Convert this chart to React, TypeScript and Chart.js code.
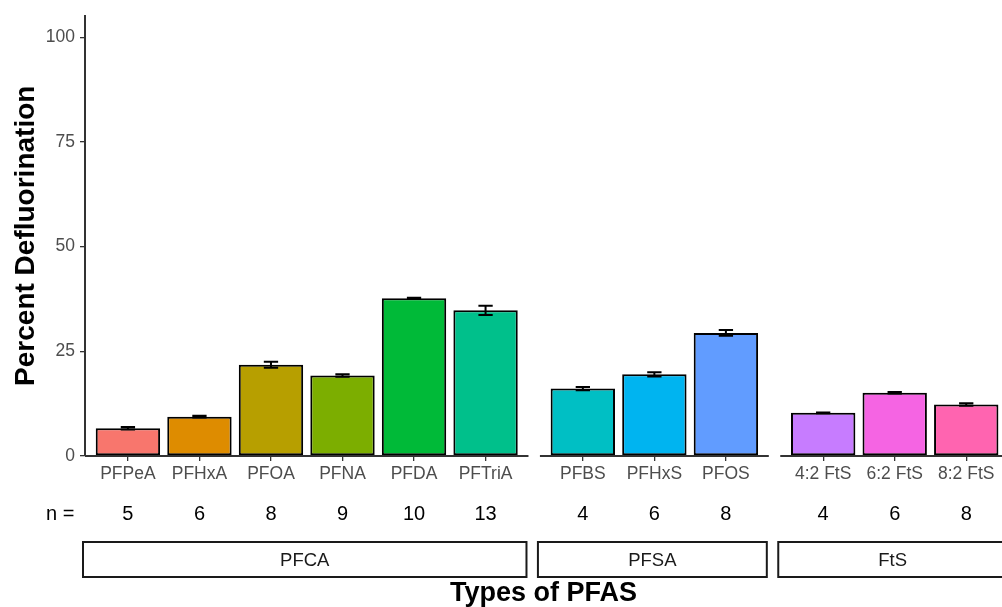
import React, { useEffect, useRef } from 'react';
import { Chart, registerables } from 'chart.js';

Chart.register(...registerables);

// ---------- data ----------
const categories = ['PFPeA', 'PFHxA', 'PFOA', 'PFNA', 'PFDA', 'PFTriA', 'PFBS', 'PFHxS', 'PFOS', '4:2 FtS', '6:2 FtS', '8:2 FtS'];
const groups = ['PFCA', 'PFCA', 'PFCA', 'PFCA', 'PFCA', 'PFCA', 'PFSA', 'PFSA', 'PFSA', 'FtS', 'FtS', 'FtS'];
const facetNames = ['PFCA', 'PFSA', 'FtS'];
const defluorination = [6.6, 9.4, 21.8, 19.2, 37.7, 34.8, 16.1, 19.5, 29.4, 10.3, 15.1, 12.3];
const errors = [0.3, 0.2, 0.7, 0.3, 0.1, 1.1, 0.4, 0.5, 0.7, 0.1, 0.2, 0.3];
const sampleSizes = [5, 6, 8, 9, 10, 13, 4, 6, 8, 4, 6, 8];
const barColors = ['#F8766D', '#DE8C00', '#B79F00', '#7CAE00', '#00BA38', '#00C08B', '#00BFC4', '#00B4F0', '#619CFF', '#C77CFF', '#F564E3', '#FF64B0'];
const yTicks = [0, 25, 50, 75, 100];

// ---------- facet layout (in category units) ----------
const EXPAND = 0.6;
const GAP = 0.16;
const X_MIN = 0.4;
const X_MAX = 13.22;

type Panel = { name: string; left: number; right: number };
const panels: Panel[] = [];
const xPos: number[] = [];
(() => {
  let start = X_MIN;
  facetNames.forEach((f) => {
    const idx = categories.map((_, i) => i).filter((i) => groups[i] === f);
    idx.forEach((ci, k) => {
      xPos[ci] = start + EXPAND + k;
    });
    const right = start + EXPAND * 2 + idx.length - 1;
    panels.push({ name: f, left: start, right });
    start = right + GAP;
  });
})();

const FONT = '"Liberation Sans", Arial, Helvetica, sans-serif';

const facetPlugin = {
  id: 'facetDecor',
  afterDraw(chart: any) {
    const { ctx, chartArea, scales } = chart;
    const x = scales.x;
    const y = scales.y;
    const bottom = chartArea.bottom;
    ctx.save();

    // panel x-axis lines
    ctx.strokeStyle = '#333333';
    ctx.lineWidth = 2;
    panels.forEach((p) => {
      const l = x.getPixelForValue(p.left);
      const r = x.getPixelForValue(p.right);
      ctx.beginPath();
      ctx.moveTo(l, bottom);
      ctx.lineTo(r, bottom);
      ctx.stroke();
    });

    // error bars
    const unit = x.getPixelForValue(1) - x.getPixelForValue(0);
    const cap = unit * 0.1;
    ctx.strokeStyle = '#000000';
    ctx.lineWidth = 2;
    defluorination.forEach((v, i) => {
      const cx = x.getPixelForValue(xPos[i]);
      const yt = y.getPixelForValue(v + errors[i]);
      const yb = y.getPixelForValue(v - errors[i]);
      ctx.beginPath();
      ctx.moveTo(cx, yt);
      ctx.lineTo(cx, yb);
      ctx.moveTo(cx - cap, yt);
      ctx.lineTo(cx + cap, yt);
      ctx.moveTo(cx - cap, yb);
      ctx.lineTo(cx + cap, yb);
      ctx.stroke();
    });

    // n = row
    const nY = bottom + 58;
    ctx.fillStyle = '#000000';
    ctx.font = `20px ${FONT}`;
    ctx.textBaseline = 'middle';
    ctx.textAlign = 'left';
    ctx.fillText('n =', 46, nY);
    ctx.textAlign = 'center';
    sampleSizes.forEach((n, i) => {
      ctx.fillText(String(n), x.getPixelForValue(xPos[i]), nY);
    });

    // facet strips
    const sTop = bottom + 86;
    const sH = 35;
    ctx.font = `18.5px ${FONT}`;
    ctx.lineWidth = 2;
    ctx.strokeStyle = '#1A1A1A';
    panels.forEach((p) => {
      const l = x.getPixelForValue(p.left) - 2;
      const r = x.getPixelForValue(p.right) - 2;
      ctx.fillStyle = '#FFFFFF';
      ctx.fillRect(l, sTop, r - l, sH);
      ctx.strokeRect(l, sTop, r - l, sH);
      ctx.fillStyle = '#1A1A1A';
      ctx.fillText(p.name, (l + r) / 2, sTop + sH / 2 + 1);
    });

    ctx.restore();
  },
};

export default function App() {
  const ref = useRef<HTMLCanvasElement | null>(null);

  useEffect(() => {
    if (!ref.current) return;
    document.body.style.margin = '0';
    Chart.defaults.font.family = FONT;
    const chart = new Chart(ref.current, {
      type: 'bar',
      data: {
        datasets: [
          {
            data: defluorination.map((v, i) => ({ x: xPos[i], y: v })),
            backgroundColor: barColors,
            borderColor: '#000000',
            borderWidth: 2,
            borderSkipped: false,
            categoryPercentage: 1,
            barPercentage: 0.9,
          } as any,
        ],
      },
      options: {
        responsive: false,
        animation: false,
        devicePixelRatio: 1,
        layout: { padding: { top: 14, right: 0, bottom: 0, left: 0 } },
        plugins: {
          legend: { display: false },
          tooltip: { enabled: false },
        },
        scales: {
          x: {
            type: 'linear',
            min: X_MIN,
            max: X_MAX,
            offset: false,
            afterBuildTicks: (scale: any) => {
              scale.ticks = xPos.map((v) => ({ value: v }));
            },
            afterFit: (scale: any) => {
              scale.height = 151;
            },
            border: { display: false },
            grid: {
              display: true,
              offset: false,
              drawOnChartArea: false,
              drawTicks: true,
              tickLength: 5,
              color: '#333333',
              lineWidth: 1.3,
            },
            ticks: {
              autoSkip: false,
              maxRotation: 0,
              minRotation: 0,
              padding: 3,
              color: '#4D4D4D',
              font: { size: 17.5, family: FONT },
              callback: (_v: any, index: number) => categories[index],
            },
            title: {
              display: true,
              text: 'Types of PFAS',
              color: '#000000',
              font: { size: 27, weight: 'bold', family: FONT },
              padding: { top: 0, bottom: -3 },
            },
          },
          y: {
            type: 'linear',
            min: 0,
            max: 105.2,
            afterBuildTicks: (scale: any) => {
              scale.ticks = yTicks.map((v) => ({ value: v }));
            },
            afterFit: (scale: any) => {
              scale.width = 85;
            },
            border: { display: true, color: '#333333', width: 2 },
            grid: {
              display: true,
              drawOnChartArea: false,
              drawTicks: true,
              tickLength: 5,
              color: '#333333',
              lineWidth: 1.3,
            },
            ticks: {
              padding: 5,
              color: '#4D4D4D',
              font: { size: 17.5, family: FONT },
              callback: (v: any) => String(v),
            },
            title: {
              display: true,
              text: 'Percent Defluorination',
              color: '#000000',
              font: { size: 28, weight: 'bold', family: FONT },
              padding: { top: 9, bottom: 0 },
            },
          },
        },
      } as any,
      plugins: [facetPlugin],
    });
    return () => chart.destroy();
  }, []);

  return (
    <div style={{ position: 'absolute', left: 0, top: 0, width: 1002, height: 607, background: '#FFFFFF' }}>
      <canvas ref={ref} width={1002} height={607} style={{ display: 'block', width: 1002, height: 607 }} />
    </div>
  );
}
